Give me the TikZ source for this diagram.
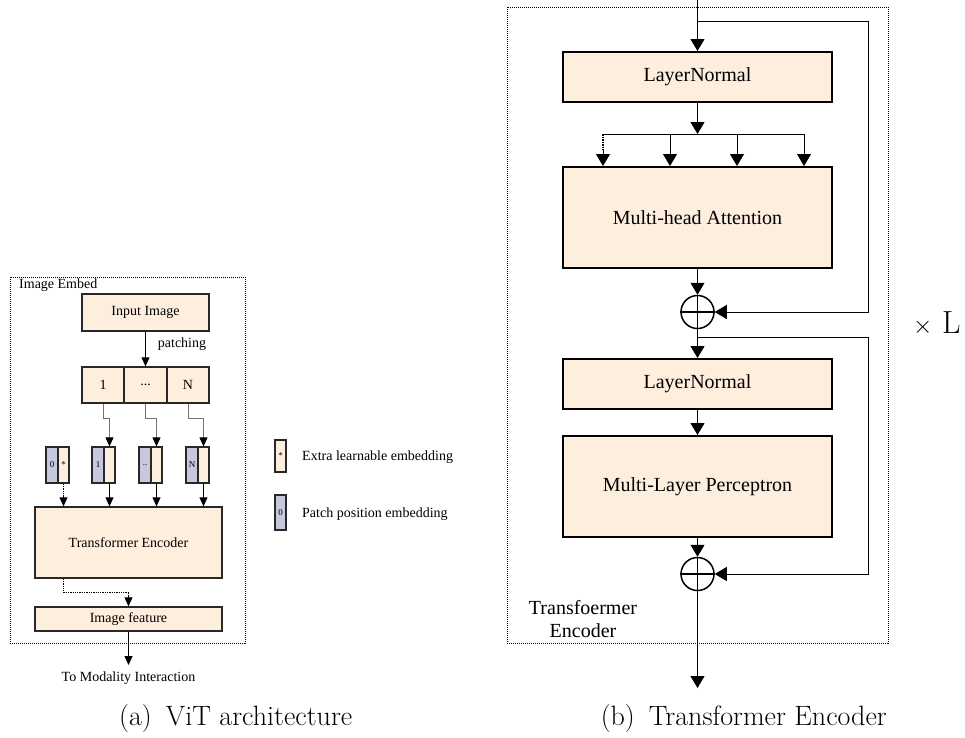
\documentclass[tikz,border=0pt]{standalone}
\usepackage{fontspec}
\newfontfamily\tnr{Liberation Serif}
\usetikzlibrary{arrows.meta,positioning,calc}
\definecolor{beige}{RGB}{253,238,222}
\definecolor{lilac}{RGB}{198,200,221}
\definecolor{edge}{RGB}{40,40,40}
\tikzset{
  lbox/.style={draw=edge, fill=beige, line width=1.3pt, inner sep=0pt,
    font=\tnr\fontsize{14}{16}\selectfont},
  rbox/.style={draw=black, fill=beige, line width=2pt, inner sep=0pt,
    minimum width=269pt, font=\tnr\fontsize{20}{23}\selectfont},
  posbox/.style={draw=edge, fill=lilac, line width=1.2pt, inner sep=0pt,
    minimum width=12pt, minimum height=36pt, font=\tnr\fontsize{9}{10}\selectfont},
  embbox/.style={draw=edge, fill=beige, line width=1.2pt, inner sep=0pt,
    minimum width=11pt, minimum height=36pt, font=\tnr\fontsize{9}{10}\selectfont},
  larrow/.style={line width=0.8pt, -{Triangle[length=9pt,width=8pt]}},
  garrow/.style={draw=black!55, line width=0.8pt, -{Triangle[length=9pt,width=8pt,color=black]}},
  rarrow/.style={line width=1pt, -{Triangle[length=12pt,width=14pt]}},
  rline/.style={line width=1pt},
  dotline/.style={line width=1.3pt, dash pattern=on 1.3pt off 1pt},
  frame/.style={line width=0.8pt, dash pattern=on 1pt off 1pt},
  plus/.style={circle, draw=black, line width=1.5pt, minimum size=33pt, inner sep=0pt},
  ltext/.style={font=\tnr\fontsize{14}{16}\selectfont, inner sep=0pt},
  rtext/.style={font=\tnr\fontsize{20}{23}\selectfont, inner sep=0pt},
  captext/.style={font=\fontsize{28}{32}\selectfont, inner sep=0pt}
}
\begin{document}
\begin{tikzpicture}[x=1pt,y=-1pt]
\useasboundingbox (0,0) rectangle (965,737);

% ---------------- (a) ViT architecture ----------------
\draw[frame] (10,277) rectangle (245,643);
\node[ltext, anchor=west] (embedlbl) at (19,285) {Image Embed};

\node[lbox, minimum width=127pt, minimum height=37pt] (input) at (145.5,312.5) {Input Image};
\node[ltext] (patchlbl) at (182,344) {patching};

\node[lbox, minimum width=42pt, minimum height=36pt] (p1) at (103,385) {1};
\node[lbox, minimum width=43pt, minimum height=36pt] (p2) at (145.5,385) {...};
\node[lbox, minimum width=42pt, minimum height=36pt] (pN) at (188,385) {N};
\draw[larrow] (input.south) -- (p2.north);

% tokens: position part + embedding part
\node[posbox] (q0) at (52,465) {0};
\node[embbox] (e0) at (63.5,465) {*};
\node[posbox] (q1) at (98,465) {1};
\node[embbox] (e1) at (109.5,465) {};
\node[posbox] (q2) at (145,465) {..};
\node[embbox] (e2) at (156.5,465) {};
\node[posbox] (qN) at (192,465) {N};
\node[embbox] (eN) at (203.5,465) {};

\draw[garrow] (p1.south) -- ++(0,15) -| (e1.north);
\draw[garrow] (p2.south) -- ++(0,15) -| (e2.north);
\draw[garrow] (pN.south) -- ++(0,15) -| (eN.north);

\node[lbox, minimum width=187pt, minimum height=71pt] (te) at (128.5,542.5) {Transformer Encoder};
\draw[dotline] (e0.south) -- (e0.south |- te.north);
\draw[larrow] ($(e0.south |- te.north)+(0,-10)$) -- (e0.south |- te.north);
\draw[larrow] (e1.south) -- (e1.south |- te.north);
\draw[larrow] (e2.south) -- (e2.south |- te.north);
\draw[larrow] (eN.south) -- (eN.south |- te.north);

\node[lbox, minimum width=187pt, minimum height=24pt] (feat) at (128.5,619) {Image feature};
\coordinate (tebend) at ($(e0.south |- te.south)+(0,14)$);
\draw[dotline] (e0.south |- te.south) -- (tebend) -- (tebend -| feat.north);
\draw[dotline] (tebend -| feat.north) -- ++(0,5);
\draw[larrow] ($(feat.north)+(0,-10)$) -- (feat.north);

\coordinate (featout) at (128.5,665);
\draw[larrow] (feat.south) -- (featout);
\node[ltext] (modlbl) at (128.5,678) {To Modality Interaction};

% legend
\node[embbox, minimum width=11pt, minimum height=32pt] (legstar) at (280.5,456) {*};
\node[ltext, anchor=west] (legstartxt) at (302,457) {Extra learnable embedding};
\node[posbox, minimum width=11pt, minimum height=35pt] (legpos) at (280.5,512.5) {0};
\node[ltext, anchor=west] (legpostxt) at (302,514) {Patch position embedding};

\node[captext, anchor=base west] (capa) at (119,725) {(a)\enspace ViT architecture};

% ---------------- (b) Transformer Encoder ----------------
\draw[frame] (507,7) rectangle (888,643);

\node[rbox, minimum height=50pt] (ln1) at (697.5,77) {LayerNormal};
\node[rbox, minimum height=101pt] (mha) at (697.5,217.5) {Multi-head Attention};
\node[plus] (add1) at (697.5,312) {};
\node[rbox, minimum height=50pt] (ln2) at (697.5,384) {LayerNormal};
\node[rbox, minimum height=101pt] (mlp) at (697.5,486.5) {Multi-Layer Perceptron};
\node[plus] (add2) at (697.5,574) {};

\draw[line width=1.5pt] (add1.north) -- (add1.south) (add1.west) -- (add1.east);
\draw[line width=1.5pt] (add2.north) -- (add2.south) (add2.west) -- (add2.east);

% input and first residual path
\coordinate (in) at (697.5,0);
\coordinate (skipA) at (697.5,21);
\draw[rarrow] (in) -- (ln1.north);
\draw[rarrow] (skipA) -- (868,21) |- (add1.east);

% fan-out into the attention heads
\coordinate (fan) at (697.5,134);
\draw[rarrow] (ln1.south) -- (fan);
\coordinate (h0) at (603,134);
\coordinate (h1) at (670,134);
\coordinate (h2) at (737,134);
\coordinate (h3) at (804,134);
\draw[rline] (h0) -- (h3);
\draw[line width=1.5pt, dash pattern=on 1.5pt off 1pt] (h0) -- ++(0,16);
\draw[rarrow] ($(h0)+(0,16)$) -- (h0 |- mha.north);
\draw[rarrow] (h1) -- (h1 |- mha.north);
\draw[rarrow] (h2) -- (h2 |- mha.north);
\draw[rarrow] (h3) -- (h3 |- mha.north);

\draw[rarrow] (mha.south) -- (add1.north);

% second residual path
\coordinate (skipB) at (697.5,337);
\draw[rarrow] (add1.south) -- (ln2.north);
\draw[rarrow] (skipB) -- (868,337) |- (add2.east);
\draw[rarrow] (ln2.south) -- (mlp.north);
\draw[rarrow] (mlp.south) -- (add2.north);

\coordinate (out) at (697.5,688);
\draw[rarrow] (add2.south) -- (out);

\node[rtext, align=center] (enclbl) at (583,619) {Transfoermer\\Encoder};
\node[font=\fontsize{32}{36}\selectfont, inner sep=0pt, anchor=base west] (times) at (913,333) {\(\times\) L};

\node[captext, anchor=base east] (capb) at (887,725) {(b)\enspace Transformer Encoder};
\end{tikzpicture}
\end{document}
